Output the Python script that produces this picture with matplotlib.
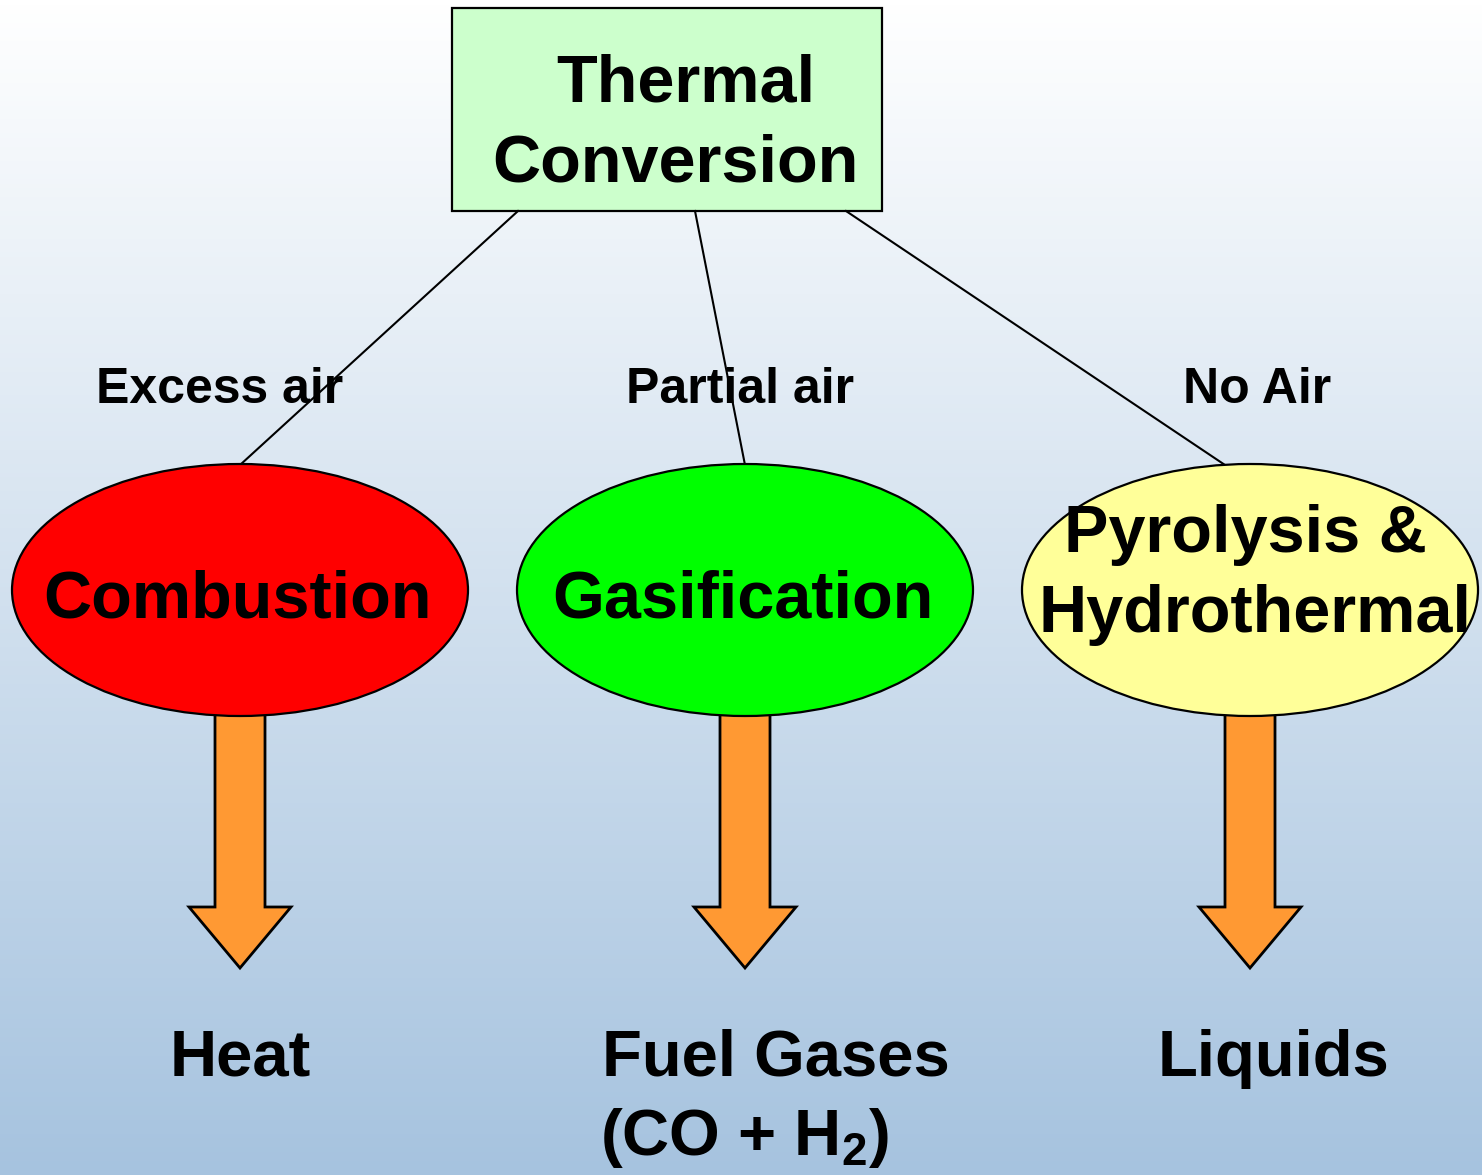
import numpy as np
import matplotlib.pyplot as plt
from matplotlib.patches import Rectangle, Ellipse, Polygon

plt.rcParams['font.family'] = ['Liberation Sans', 'DejaVu Sans']
plt.rcParams['mathtext.default'] = 'regular'

# Diagram content
root_lines = ["Thermal", "Conversion"]
conditions = ["Excess air", "Partial air", "No Air"]
processes = [["Combustion"], ["Gasification"], ["Pyrolysis &", "Hydrothermal"]]
process_colors = ["#FF0000", "#00FF00", "#FFFF99"]
products = ["Heat", "Fuel Gases", "Liquids"]
product_note = "(CO + H$_2$)"

# Layout (pixel space, y downward)
W, H = 1482, 1175
node_x = [240, 745, 1250]
line_start_x = [518, 695, 846]
line_end_x = [240, 745, 1225]
cond_x = [220, 740, 1257]
prod_x = [240, 776, 1273]

fig = plt.figure(figsize=(W / 100, H / 100), dpi=100)
ax = fig.add_axes([0, 0, 1, 1])
ax.set_xlim(0, W)
ax.set_ylim(H, 0)
ax.axis("off")

# background gradient
top = np.array([255, 255, 255]) / 255
bot = np.array([166, 195, 223]) / 255
t = np.linspace(0, 1, 256)[:, None]
grad = (top * (1 - t) + bot * t)[:, None, :]
ax.imshow(grad, extent=[0, W, H, 0], aspect="auto", zorder=0)

# root box
ax.add_patch(Rectangle((452, 8), 430, 203, facecolor="#CCFFCC",
                       edgecolor="black", lw=1.6, zorder=2))
ax.text(686, 85, root_lines[0], ha="center", va="center", fontsize=48,
        fontweight="bold", zorder=3)
ax.text(675, 165, root_lines[1], ha="center", va="center", fontsize=48,
        fontweight="bold", zorder=3)

label_y = [[600], [600], [535, 615]]
label_x = [[238], [743], [1245, 1255]]

for i in range(3):
    x = node_x[i]
    # condition label and connector
    ax.text(cond_x[i], 390, conditions[i], ha="center", va="center",
            fontsize=36, fontweight="bold", zorder=3)
    ax.plot([line_start_x[i], line_end_x[i]], [211, 465], color="black",
            lw=1.5, zorder=4)

    # arrow
    shaft, head = 25, 51
    pts = [(x - shaft, 700), (x + shaft, 700), (x + shaft, 907),
           (x + head, 907), (x, 968), (x - head, 907), (x - shaft, 907)]
    ax.add_patch(Polygon(pts, closed=True, facecolor="#FF9933",
                         edgecolor="black", lw=2, joinstyle="miter", zorder=3))

    # process ellipse
    ax.add_patch(Ellipse((x, 590), 456, 252, facecolor=process_colors[i],
                         edgecolor="black", lw=1.6, zorder=5))
    for j, line in enumerate(processes[i]):
        ax.text(label_x[i][j], label_y[i][j], line, ha="center", va="center",
                fontsize=48, fontweight="bold", zorder=6)

    # product
    ax.text(prod_x[i], 1059, products[i], ha="center", va="center",
            fontsize=47, fontweight="bold", zorder=3)

ax.text(600, 1138, product_note, ha="left", va="center", fontsize=47,
        fontweight="bold", zorder=3)

fig.savefig("out.png", dpi=100)
